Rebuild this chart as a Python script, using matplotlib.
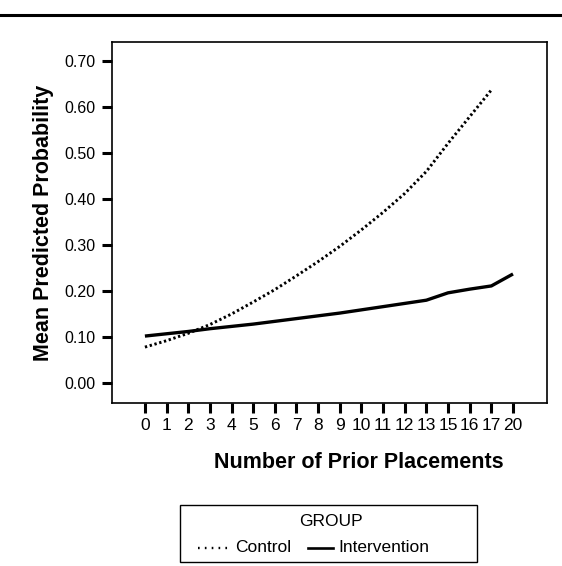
import matplotlib
matplotlib.use("Agg")
import matplotlib.pyplot as plt
from matplotlib.lines import Line2D
from matplotlib.patches import Rectangle

plt.rcParams['font.family'] = ['Liberation Sans', 'DejaVu Sans']

# data
placements = ['0', '1', '2', '3', '4', '5', '6', '7', '8', '9', '10',
              '11', '12', '13', '15', '16', '17', '20']
control = [0.078, 0.092, 0.108, 0.127, 0.150, 0.176, 0.203, 0.233, 0.264,
           0.297, 0.333, 0.371, 0.412, 0.460, 0.521, 0.579, 0.637]
intervention = [0.102, 0.107, 0.112, 0.118, 0.123, 0.128, 0.134, 0.140,
                0.146, 0.152, 0.159, 0.166, 0.173, 0.180, 0.196, 0.204,
                0.211, 0.237]
yticks = [0.0, 0.1, 0.2, 0.3, 0.4, 0.5, 0.6, 0.7]

W, H = 562, 566
fig = plt.figure(figsize=(W / 100, H / 100), dpi=100)
ax = fig.add_axes([112 / W, 1 - 403 / H, 435 / W, 361 / H])

ax.plot(range(len(control)), control, color='black', lw=2.1,
        linestyle=(0, (0.8, 0.9)), dash_capstyle='butt')
ax.plot(range(len(intervention)), intervention, color='black', lw=2.4,
        solid_capstyle='butt')

ax.set_xlim(-1.52, 18.57)
ax.set_ylim(-0.0435, 0.7413)
ax.set_xticks(range(len(placements)))
ax.set_xticklabels(placements, family=['Liberation Sans Narrow', 'Liberation Sans'],
                   fontsize=12.5)
ax.set_yticks(yticks)
ax.set_yticklabels(['%.2f' % v for v in yticks], fontsize=11.5)
ax.tick_params(axis='x', direction='out', length=7, width=2.2, pad=4)
ax.tick_params(axis='y', direction='out', length=7, width=2.2, pad=5)
for s in ax.spines.values():
    s.set_linewidth(1.2)

fig.text(44 / W, 1 - 223 / H, 'Mean Predicted Probability', rotation=90,
         ha='center', va='center', fontsize=15.5, fontweight='bold')
fig.text(359 / W, 1 - 462 / H, 'Number of Prior Placements',
         ha='center', va='center', fontsize=15.5, fontweight='bold')

# top rule
fig.add_artist(Line2D([0, 1], [1 - 14.5 / H, 1 - 14.5 / H],
                      color='black', lw=2.2))

# legend box
fig.add_artist(Rectangle((180 / W, 1 - 562 / H), 297 / W, 57 / H,
                         transform=fig.transFigure, fill=False,
                         edgecolor='black', lw=1.0))
fig.text(331 / W, 1 - 521 / H, 'GROUP', ha='center', va='center', fontsize=12.5)
ly = 1 - 548 / H
fig.add_artist(Line2D([198 / W, 230 / W], [ly, ly], color='black', lw=1.7,
                      linestyle=(0, (0.7, 2.2)), dash_capstyle='butt'))
fig.text(235 / W, ly, 'Control', ha='left', va='center', fontsize=12.5)
fig.add_artist(Line2D([308 / W, 333 / W], [ly, ly], color='black', lw=1.9))
fig.text(338 / W, ly, 'Intervention', ha='left', va='center', fontsize=12.5)

fig.savefig('out.png', dpi=100)
